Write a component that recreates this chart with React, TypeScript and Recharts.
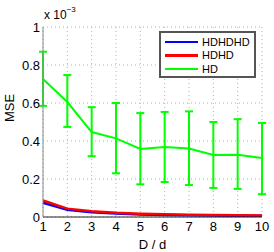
import { LineChart, Line, XAxis, YAxis, CartesianGrid, ErrorBar, Legend } from 'recharts';

// values are in units of 1e-3 (axis shows "x 10^-3")
const ratios = [1, 2, 3, 4, 5, 6, 7, 8, 9, 10];
const hdhdhd = [0.075, 0.038, 0.025, 0.018, 0.013, 0.010, 0.009, 0.008, 0.007, 0.006];
const hdhd = [0.087, 0.044, 0.030, 0.022, 0.017, 0.014, 0.012, 0.010, 0.009, 0.008];
const hd = [0.726, 0.605, 0.447, 0.414, 0.358, 0.368, 0.360, 0.326, 0.328, 0.310];
const hdHigh = [0.870, 0.747, 0.578, 0.600, 0.547, 0.553, 0.556, 0.500, 0.515, 0.495];
const hdLow = [0.585, 0.474, 0.320, 0.230, 0.172, 0.184, 0.168, 0.153, 0.148, 0.120];
const yTicks = [0, 0.2, 0.4, 0.6, 0.8, 1];
const seriesOrder = ['HDHDHD', 'HDHD', 'HD'];

const data = ratios.map((r, i) => ({
  r,
  hdhdhd: hdhdhd[i],
  hdhd: hdhd[i],
  hd: hd[i],
  hdErr: [hd[i] - hdLow[i], hdHigh[i] - hd[i]],
}));

const font = 'Liberation Sans, Arial, sans-serif';

const LegendBox = ({ payload }: any) => {
  const items = [...(payload || [])].sort((a: any, b: any) => seriesOrder.indexOf(a.value) - seriesOrder.indexOf(b.value));
  return (
    <div style={{ border: '2px solid #555', background: '#fff', width: 97, height: 47, boxSizing: 'border-box', padding: '2px 0 0 4px' }}>
      {items.map((p: any) => (
        <div key={p.value} style={{ display: 'flex', alignItems: 'center', height: 13.5, fontFamily: font, fontSize: 11, color: '#000' }}>
          <span style={{ display: 'inline-block', width: 33, height: 2.5, background: p.color, marginRight: 4 }} />
          {p.value}
        </div>
      ))}
    </div>
  );
};

export default function App() {
  return (
    <div style={{ position: 'absolute', left: 0, top: 0, width: 274, height: 252, background: '#fff' }}>
      <LineChart width={274} height={252} data={data} margin={{ top: 27, right: 12, bottom: 0, left: 0 }}>
        <CartesianGrid stroke="#b0b0b0" strokeDasharray="1 3" />
        <XAxis
          dataKey="r"
          type="number"
          domain={[1, 10]}
          ticks={ratios}
          height={35}
          tickSize={0}
          tickMargin={5}
          stroke="#222"
          tick={{ fill: '#000', fontSize: 13, fontFamily: font }}
          label={{ value: 'D / d', position: 'insideBottom', offset: 3, fill: '#000', fontSize: 13, fontFamily: font }}
        />
        <YAxis
          type="number"
          domain={[0, 1]}
          ticks={yTicks}
          width={43}
          tickSize={0}
          tickMargin={3}
          stroke="#888"
          tickFormatter={(v: number) => (v === 0 || v === 1 ? String(v) : v.toFixed(1))}
          tick={{ fill: '#000', fontSize: 13, fontFamily: font }}
          label={{ value: 'MSE', angle: -90, position: 'insideLeft', offset: 9, fill: '#000', fontSize: 13, fontFamily: font }}
        />
        <Legend
          layout="vertical"
          verticalAlign="middle"
          align="center"
          content={<LegendBox />}
          wrapperStyle={{ position: 'absolute', left: 159, top: 31, width: 97 }}
        />
        <Line name="HDHDHD" dataKey="hdhdhd" stroke="#0000ff" strokeWidth={2.5} dot={false} isAnimationActive={false} />
        <Line name="HDHD" dataKey="hdhd" stroke="#ff0000" strokeWidth={2.5} dot={false} isAnimationActive={false} />
        <Line name="HD" dataKey="hd" stroke="#00ff00" strokeWidth={2} dot={false} isAnimationActive={false}>
          <ErrorBar dataKey="hdErr" direction="y" width={4} stroke="#00ff00" strokeWidth={2} isAnimationActive={false} />
        </Line>
      </LineChart>
      <div style={{ position: 'absolute', left: 44, top: 7, fontFamily: font, fontSize: 12, color: '#000', whiteSpace: 'nowrap' }}>
        x 10<sup style={{ fontSize: 8, position: 'relative', top: -2 }}>−3</sup>
      </div>
    </div>
  );
}
